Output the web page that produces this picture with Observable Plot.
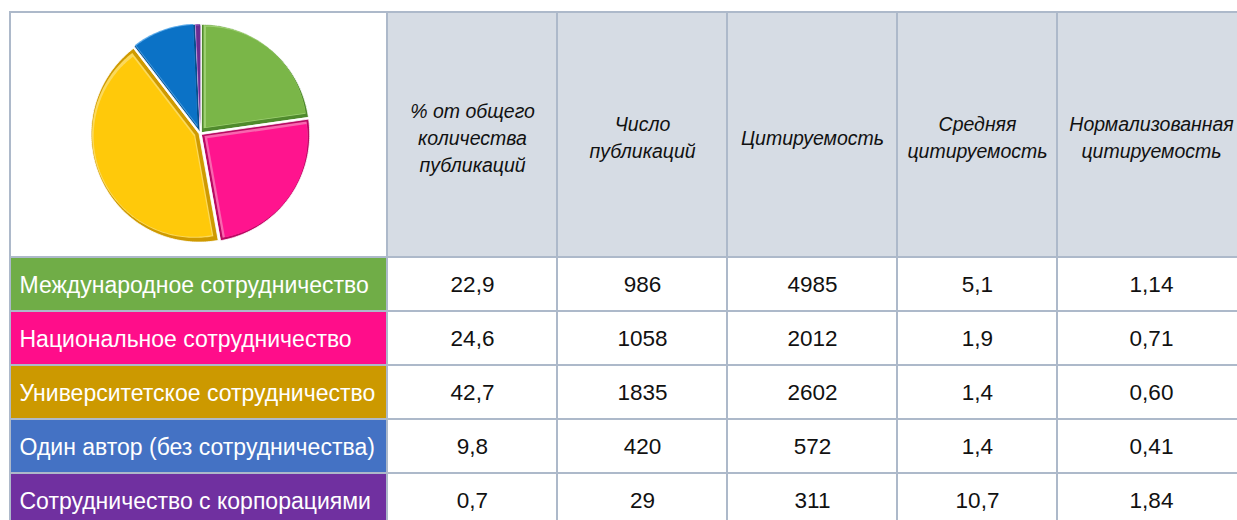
<!DOCTYPE html>
<html>
<head>
<meta charset="utf-8">
<script src="https://cdn.jsdelivr.net/npm/d3@7"></script>
<script src="https://cdn.jsdelivr.net/npm/@observablehq/plot@0.6"></script>
<style>
  html, body { margin: 0; padding: 0; background: #fff; }
  #chart svg { display: block; }
</style>
</head>
<body>
<div id="chart"></div>
<script>
// ---- data ----
const categories = [
  "Международное сотрудничество",
  "Национальное сотрудничество",
  "Университетское сотрудничество",
  "Один автор (без сотрудничества)",
  "Сотрудничество с корпорациями"
];
const headers = [
  "% от общего\nколичества\nпубликаций",
  "Число\nпубликаций",
  "Цитируемость",
  "Средняя\nцитируемость",
  "Нормализованная\nцитируемость"
];
const sharePct   = [22.9, 24.6, 42.7, 9.8, 0.7];
const pubCount   = [986, 1058, 1835, 420, 29];
const citations  = [4985, 2012, 2602, 572, 311];
const avgCites   = [5.1, 1.9, 1.4, 1.4, 10.7];
const normCites  = [1.14, 0.71, 0.60, 0.41, 1.84];

// ---- styles / layout ----
const rowColors  = ["#70ad47", "#ff0d8a", "#cc9900", "#4472c4", "#7030a0"];
const pieColors  = ["#7ab648", "#ff148e", "#ffc90a", "#0b72c6", "#6a2d91"];
const pieEdges   = ["#4f8a2c", "#b80a62", "#cf9a00", "#07508e", "#431a60"];
const pieLights  = ["#a6d67a", "#ff70b8", "#ffe066", "#4da3e8", "#9a5cc4"];
const W = 1237, H = 520;
const colEdges = [10, 387, 557, 727, 897, 1057, 1245];
const rowEdges = [12, 257, 311, 365, 419, 473, 527];
const gridColor = "#adb9ca";
const headerBg = "#d6dce4";
const pieCx = 200, pieCy = 133, pieR = 108;

const fmt1 = v => v.toFixed(1).replace(".", ",");
const fmt2 = v => v.toFixed(2).replace(".", ",");
const fmt0 = v => String(v);

// ---- table cells ----
const cells = [];
for (let c = 0; c < 6; c++) {
  cells.push({x1: colEdges[c], x2: colEdges[c+1], y1: rowEdges[0], y2: rowEdges[1],
              fill: c === 0 ? "#ffffff" : headerBg});
}
for (let r = 0; r < categories.length; r++) {
  for (let c = 0; c < 6; c++) {
    cells.push({x1: colEdges[c], x2: colEdges[c+1], y1: rowEdges[r+1], y2: rowEdges[r+2],
                fill: c === 0 ? rowColors[r] : "#ffffff"});
  }
}

const headerTexts = headers.map((h, i) => ({
  text: h, x: (colEdges[i+1] + colEdges[i+2]) / 2, y: (rowEdges[0] + rowEdges[1]) / 2 + 1
}));

const columns = [
  sharePct.map(fmt1), pubCount.map(fmt0), citations.map(fmt0),
  avgCites.map(fmt1), normCites.map(fmt2)
];
const valueTexts = [];
columns.forEach((col, c) => col.forEach((t, r) => valueTexts.push({
  text: t, x: (colEdges[c+1] + colEdges[c+2]) / 2, y: (rowEdges[r+1] + rowEdges[r+2]) / 2
})));
const labelTexts = categories.map((t, r) => ({
  text: t, x: colEdges[0] + 9, y: (rowEdges[r+1] + rowEdges[r+2]) / 2 + 1
}));

// ---- pie slices (from sharePct) ----
const arcs = d3.pie().sort(null).value(d => d)(sharePct);
const piePts = [];
arcs.forEach((a, i) => {
  const mid = (a.startAngle + a.endAngle) / 2;
  const ox = pieCx + 1.5 * Math.sin(mid), oy = pieCy - 1.5 * Math.cos(mid);
  const n = Math.max(2, Math.ceil((a.endAngle - a.startAngle) / 0.02));
  const outer = [[ox, oy]];
  for (let k = 0; k <= n; k++) {
    const t = a.startAngle + (a.endAngle - a.startAngle) * k / n;
    outer.push([ox + pieR * Math.sin(t), oy - pieR * Math.cos(t)]);
  }
  const cx = d3.mean(outer, p => p[0]), cy = d3.mean(outer, p => p[1]);
  outer.forEach(p => piePts.push({id: "o" + i, x: p[0], y: p[1], fill: pieEdges[i], layer: 0}));
  const s1 = 0.955;
  outer.forEach(p => piePts.push({id: "m" + i, x: cx + (p[0] - cx) * s1 - 0.8, y: cy + (p[1] - cy) * s1 - 0.8, fill: pieLights[i], layer: 1}));
  const s2 = 0.93;
  outer.forEach(p => piePts.push({id: "i" + i, x: cx + (p[0] - cx) * s2, y: cy + (p[1] - cy) * s2, fill: pieColors[i], layer: 2}));
});

const font = "'Liberation Sans Narrow', 'Liberation Sans', Arial, sans-serif";

const chart = Plot.plot({
  width: W, height: H,
  margin: 0,
  x: {domain: [0, W], range: [0, W], axis: null},
  y: {domain: [0, H], range: [0, H], axis: null},
  color: {type: "identity"},
  style: {background: "#ffffff"},
  marks: [
    Plot.rect(cells, {x1: "x1", x2: "x2", y1: "y1", y2: "y2", fill: "fill",
                      stroke: gridColor, strokeWidth: 2}),
    Plot.line(piePts.filter(d => d.layer === 0), {x: "x", y: "y", z: "id", fill: "fill",
                      stroke: "#ffffff", strokeWidth: 0.8, curve: "linear-closed"}),
    Plot.line(piePts.filter(d => d.layer === 1), {x: "x", y: "y", z: "id", fill: "fill",
                      stroke: "none", curve: "linear-closed", fillOpacity: 0.9}),
    Plot.line(piePts.filter(d => d.layer === 2), {x: "x", y: "y", z: "id", fill: "fill",
                      stroke: "none", curve: "linear-closed"}),
    Plot.text(headerTexts, {x: "x", y: "y", text: "text", fontSize: 19.5, fontStyle: "italic",
                      fill: "#111", lineHeight: 1.38, fontFamily: font}),
    Plot.text(valueTexts, {x: "x", y: "y", text: "text", fontSize: 22.5, fill: "#111",
                      fontFamily: font}),
    Plot.text(labelTexts, {x: "x", y: "y", text: "text", fontSize: 23, fill: "#ffffff",
                      textAnchor: "start", fontFamily: font})
  ]
});
document.getElementById("chart").appendChild(chart);
</script>
</body>
</html>
